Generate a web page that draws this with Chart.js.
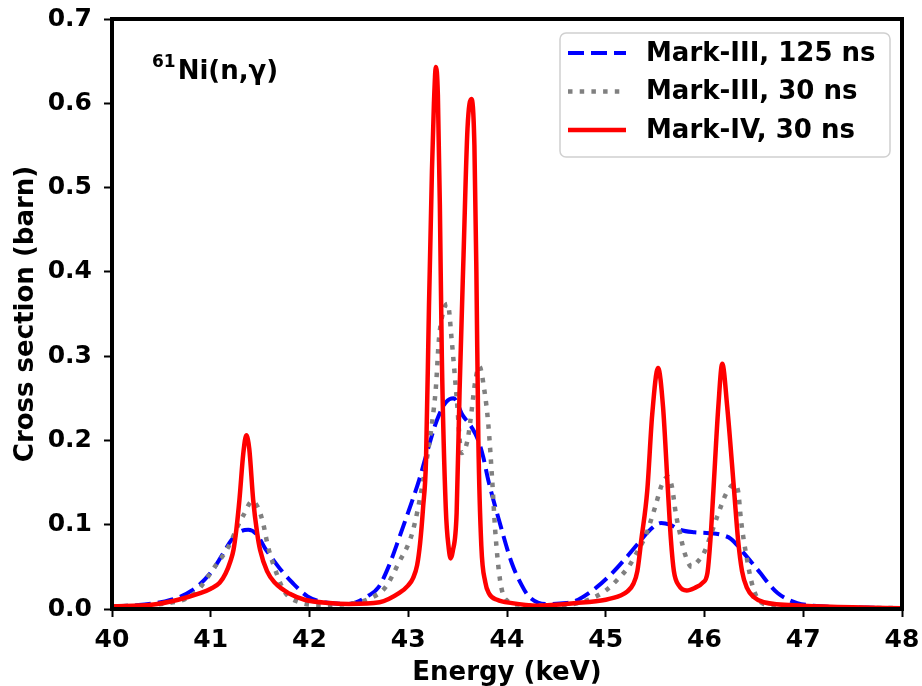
<!DOCTYPE html>
<html>
<head>
<meta charset="utf-8">
<script src="https://cdn.jsdelivr.net/npm/chart.js@4.4.0/dist/chart.umd.min.js"></script>
<style>
  html, body { margin: 0; padding: 0; background: #fff; }
  #xs { display: block; }
</style>
</head>
<body>
<canvas id="xs" width="922" height="686"></canvas>
<script>
// 61Ni(n,g) cross section, three resolution settings (energy in keV, sigma in barn)
var energyM3Long = [40.0, 40.3, 40.6, 40.81, 41.0, 41.12, 41.21, 41.3, 41.38, 41.47, 41.55, 41.61, 41.72, 41.82, 41.98, 42.15, 42.4, 42.6, 42.7, 42.8, 42.91, 43.0, 43.11, 43.2, 43.29, 43.38, 43.46, 43.55, 43.64, 43.71, 43.76, 43.81, 43.92, 44.05, 44.15, 44.22, 44.39, 44.6, 44.72, 44.9, 45.06, 45.2, 45.33, 45.45, 45.56, 45.65, 45.75, 45.9, 46.05, 46.17, 46.27, 46.4, 46.5, 46.57, 46.65, 46.74, 46.85, 46.94, 47.1, 47.5, 48.0];
var sigmaM3Long = [0.003, 0.005, 0.011, 0.022, 0.043, 0.065, 0.082, 0.092, 0.094, 0.088, 0.072, 0.062, 0.045, 0.032, 0.015, 0.008, 0.006, 0.016, 0.026, 0.05, 0.085, 0.115, 0.153, 0.19, 0.224, 0.245, 0.25, 0.23, 0.216, 0.2, 0.18, 0.153, 0.105, 0.054, 0.028, 0.015, 0.006, 0.007, 0.011, 0.025, 0.042, 0.06, 0.078, 0.094, 0.102, 0.1, 0.094, 0.091, 0.09, 0.088, 0.083, 0.066, 0.052, 0.042, 0.03, 0.019, 0.011, 0.007, 0.004, 0.002, 0.001];

var energyM3Short = [40.0, 40.5, 40.84, 41.04, 41.18, 41.28, 41.33, 41.42, 41.48, 41.53, 41.58, 41.68, 41.75, 41.9, 42.1, 42.4, 42.6, 42.77, 42.9, 43.04, 43.14, 43.24, 43.28, 43.31, 43.36, 43.4, 43.44, 43.49, 43.54, 43.6, 43.63, 43.68, 43.72, 43.77, 43.81, 43.85, 43.88, 43.93, 43.99, 44.15, 44.4, 44.6, 44.72, 44.85, 45.0, 45.12, 45.23, 45.32, 45.4, 45.5, 45.57, 45.63, 45.67, 45.71, 45.76, 45.8, 45.87, 45.93, 46.0, 46.07, 46.13, 46.22, 46.3, 46.34, 46.37, 46.42, 46.49, 46.57, 46.7, 47.0, 48.0];
var sigmaM3Short = [0.003, 0.006, 0.019, 0.05, 0.074, 0.1, 0.111, 0.128, 0.12, 0.102, 0.074, 0.038, 0.02, 0.008, 0.005, 0.006, 0.012, 0.026, 0.054, 0.09, 0.145, 0.22, 0.263, 0.319, 0.355, 0.362, 0.319, 0.251, 0.185, 0.2, 0.224, 0.271, 0.288, 0.26, 0.22, 0.153, 0.094, 0.034, 0.011, 0.005, 0.004, 0.005, 0.007, 0.012, 0.022, 0.035, 0.05, 0.068, 0.086, 0.121, 0.148, 0.157, 0.145, 0.113, 0.085, 0.066, 0.05, 0.056, 0.068, 0.09, 0.11, 0.137, 0.148, 0.14, 0.105, 0.066, 0.026, 0.008, 0.004, 0.002, 0.001];

var energyM4 = [
  40.0, 40.4, 40.67, 40.9, 41.0, 41.09, 41.15, 41.2, 41.23, 41.26, 41.29, 41.33, 41.36, 41.39, 41.43, 41.47, 41.5, 41.57, 41.65, 41.8, 41.95, 42.2, 42.4,
  42.71, 42.91, 43.0, 43.05, 43.09, 43.12, 43.15, 43.18, 43.21, 43.24, 43.26, 43.28, 43.3, 43.32, 43.34, 43.38, 43.41, 43.43, 43.45, 43.49, 43.52, 43.56, 43.6, 43.64, 43.67, 43.69, 43.71, 43.74, 43.78, 43.82, 43.9, 44.05, 44.3,
  44.7, 45.0, 45.15, 45.22, 45.28, 45.32, 45.36, 45.42, 45.47, 45.53, 45.58, 45.63, 45.66, 45.69, 45.74, 45.82, 45.9, 45.98, 46.03, 46.06, 46.09, 46.14, 46.18, 46.23, 46.3, 46.34, 46.38, 46.43, 46.5, 46.6, 47.0, 47.5, 48.0
];
var sigmaM4 = [
  0.003, 0.005, 0.011, 0.019, 0.024, 0.031, 0.042, 0.057, 0.07, 0.095, 0.129, 0.185, 0.206, 0.19, 0.129, 0.09, 0.07, 0.045, 0.031, 0.018, 0.011, 0.007, 0.006,
  0.008, 0.019, 0.028, 0.037, 0.052, 0.078, 0.12, 0.177, 0.36, 0.52, 0.6, 0.643, 0.61, 0.48, 0.3, 0.12, 0.072, 0.06, 0.068, 0.114, 0.26, 0.42, 0.57, 0.605, 0.55, 0.4, 0.2, 0.075, 0.032, 0.018, 0.011, 0.007, 0.004,
  0.007, 0.011, 0.016, 0.021, 0.03, 0.045, 0.082, 0.14, 0.23, 0.286, 0.24, 0.14, 0.082, 0.045, 0.028, 0.022, 0.025, 0.031, 0.043, 0.082, 0.14, 0.24, 0.291, 0.24, 0.14, 0.082, 0.045, 0.025, 0.014, 0.008, 0.004, 0.002, 0.001
];

var seriesLabels = ['Mark-III, 125 ns', 'Mark-III, 30 ns', 'Mark-IV, 30 ns'];
var reactionLabel = { mass: '61', text: 'Ni(n,\u03b3)' };

var FONT = 'DejaVu Sans';

function pairs(xs, ys) {
  return xs.map(function (x, i) { return { x: x, y: ys[i] }; });
}

// black box around the plot area, drawn over the curves
var framePlugin = {
  id: 'frame',
  afterDatasetsDraw: function (chart) {
    var a = chart.chartArea, ctx = chart.ctx;
    ctx.save();
    ctx.strokeStyle = '#000';
    ctx.lineWidth = 4;
    ctx.strokeRect(a.left, a.top, a.right - a.left, a.bottom - a.top);
    ctx.restore();
  }
};

// legend box + reaction tag in the upper corners
var boxLegendPlugin = {
  id: 'boxLegend',
  afterDraw: function (chart) {
    var ctx = chart.ctx;
    var bx = 560, by = 33, bw = 330, bh = 124, r = 6;
    ctx.save();
    ctx.beginPath();
    ctx.roundRect(bx, by, bw, bh, r);
    ctx.fillStyle = 'rgba(255,255,255,0.8)';
    ctx.fill();
    ctx.strokeStyle = '#d0d0d0';
    ctx.lineWidth = 1.5;
    ctx.stroke();

    ctx.font = 'bold 26px "' + FONT + '"';
    ctx.textBaseline = 'middle';
    ctx.fillStyle = '#000';
    chart.data.datasets.forEach(function (ds, i) {
      var y = 53 + i * 38.5;
      ctx.beginPath();
      ctx.setLineDash(ds.borderDash || []);
      ctx.lineWidth = ds.borderWidth;
      ctx.strokeStyle = ds.borderColor;
      ctx.moveTo(568, y);
      ctx.lineTo(626, y);
      ctx.stroke();
      ctx.setLineDash([]);
      ctx.fillText(ds.label, 646, y + 1);
    });

    ctx.textBaseline = 'alphabetic';
    ctx.font = 'bold 17px "' + FONT + '"';
    ctx.fillText(reactionLabel.mass, 152, 67);
    var w = ctx.measureText(reactionLabel.mass).width;
    ctx.font = 'bold 26px "' + FONT + '"';
    ctx.fillText(reactionLabel.text, 152 + w + 2, 79);
    ctx.restore();
  }
};

// fixed axis boxes, no extra room for overhanging end labels
function fixBox(size) {
  return function (s) {
    if (s.isHorizontal()) s.height = size; else s.width = size;
    s.paddingTop = 0;
    s.paddingBottom = 0;
    s.paddingLeft = 0;
    s.paddingRight = 0;
  };
}

var tickFont = { family: FONT, size: 25, weight: 'bold' };
var titleFont = { family: FONT, size: 26, weight: 'bold', lineHeight: 1.0 };

new Chart(document.getElementById('xs'), {
  type: 'line',
  data: {
    datasets: [
      {
        label: seriesLabels[0],
        data: pairs(energyM3Long, sigmaM3Long),
        borderColor: '#0000ff',
        borderWidth: 4,
        borderDash: [16, 7],
        order: 3
      },
      {
        label: seriesLabels[1],
        data: pairs(energyM3Short, sigmaM3Short),
        borderColor: '#808080',
        borderWidth: 4.5,
        borderDash: [4.5, 7.2],
        order: 2
      },
      {
        label: seriesLabels[2],
        data: pairs(energyM4, sigmaM4),
        borderColor: '#ff0000',
        borderWidth: 4.5,
        order: 1
      }
    ]
  },
  options: {
    responsive: false,
    animation: false,
    devicePixelRatio: 1,
    layout: { padding: { top: 19, right: 20, left: 0, bottom: 0 } },
    elements: {
      point: { radius: 0 },
      line: { cubicInterpolationMode: 'monotone', fill: false, borderCapStyle: 'butt' }
    },
    plugins: { legend: { display: false }, tooltip: { enabled: false } },
    scales: {
      x: {
        type: 'linear',
        min: 40,
        max: 48,
        afterFit: fixBox(77),
        ticks: { stepSize: 1, color: '#000', font: tickFont, padding: 8, maxRotation: 0 },
        grid: { drawOnChartArea: false, tickLength: 8, tickWidth: 2, tickColor: '#000' },
        border: { display: false },
        title: { display: true, text: 'Energy (keV)', color: '#000', font: titleFont, padding: { top: 0, bottom: 0 } }
      },
      y: {
        min: 0,
        max: 0.7,
        afterFit: fixBox(112),
        ticks: {
          stepSize: 0.1,
          color: '#000',
          font: tickFont,
          padding: 12,
          callback: function (v) { return v.toFixed(1); }
        },
        grid: { drawOnChartArea: false, tickLength: 8, tickWidth: 2, tickColor: '#000' },
        border: { display: false },
        title: { display: true, text: 'Cross section (barn)', color: '#000', font: titleFont, padding: { top: 13, bottom: 0 } }
      }
    }
  },
  plugins: [framePlugin, boxLegendPlugin]
});
</script>
</body>
</html>
